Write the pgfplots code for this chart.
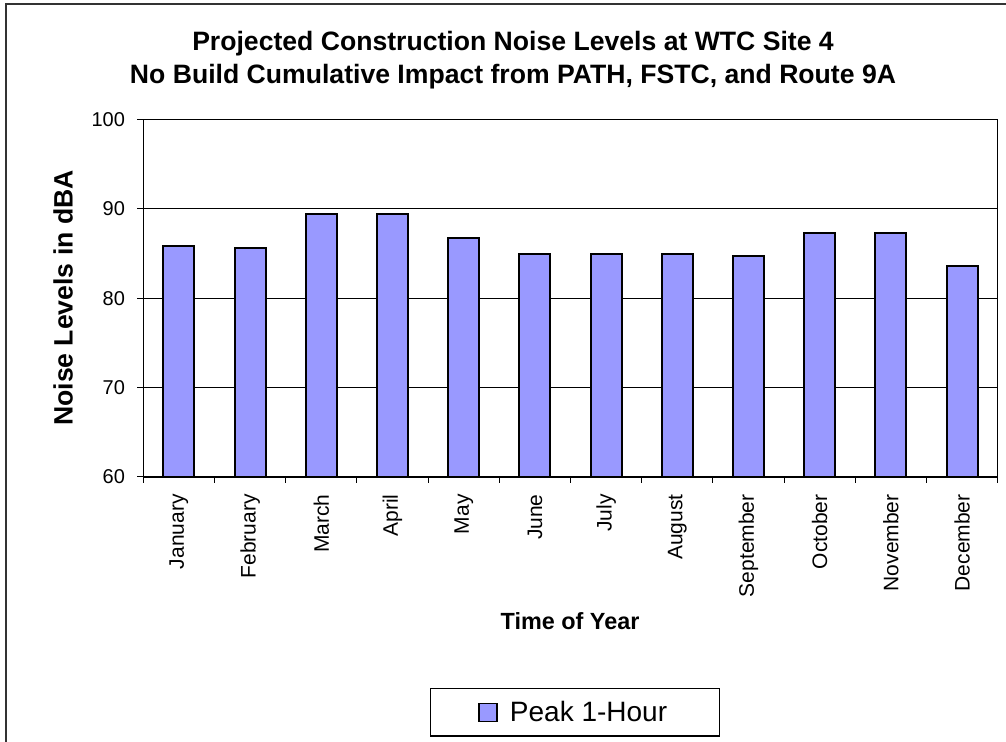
\documentclass[border=0pt]{standalone}
\usepackage{pgfplots}
\pgfplotsset{compat=1.18}
\usepackage{fontspec}
\setmainfont{Liberation Sans}
\definecolor{barfill}{HTML}{9999FF}
\begin{document}
\begin{tikzpicture}
\path[use as bounding box] (0,0) rectangle (503pt,371pt);
\draw[line width=0.8pt,black!80] (2.9pt,0pt) -- (2.9pt,369pt) -- (503pt,369pt);
\begin{axis}[
  at={(71.65pt,132.5pt)}, anchor=south west,
  width=427.2pt, height=178.85pt, scale only axis,
  ymin=60, ymax=100, ytick={60,70,80,90,100},
  xmin=-0.5, xmax=11.5,
  xtick={0,...,11},
  xticklabels={January,February,March,April,May,June,July,August,September,October,November,December},
  minor xtick={-0.5,0.5,...,11.5},
  xtick pos=left, ytick pos=left,
  tick align=outside,
  major tick length=3pt, minor tick length=3pt,
  major x tick style={draw=none},
  minor x tick style={black, line width=0.5pt},
  ytick style={black, line width=0.5pt},
  ymajorgrids, grid style={black, line width=0.5pt},
  axis line style={black, line width=0.6pt},
  /pgf/number format/assume math mode=true,
  yticklabel style={font=\fontsize{10}{12}\selectfont, inner sep=0pt, xshift=-6pt},
  xticklabel style={font=\fontsize{10.5}{12}\selectfont, rotate=90, anchor=east, inner sep=0pt},
  xticklabel shift=5.5pt,
  legend style={at={(0.505,-0.658)}, anchor=center, draw=black, line width=0.6pt,
    font=\fontsize{14}{16}\selectfont, inner xsep=24pt, inner ysep=4pt},
  legend image code/.code={\draw[#1, line width=0.6pt] (0pt,-4.5pt) rectangle (9pt,4.5pt); \path (13pt,0pt);},
  clip=false,
]
\addplot[ybar, bar width=15.5pt, fill=barfill, draw=black, line width=1pt]
  coordinates {(0,85.8) (1,85.6) (2,89.4) (3,89.4) (4,86.7) (5,84.9) (6,84.9) (7,84.9) (8,84.7) (9,87.3) (10,87.3) (11,83.6)};
\addlegendentry{Peak 1-Hour}
\end{axis}
\node[anchor=base, font=\bfseries\fontsize{13.3}{15}\selectfont] at (256.5pt,345.6pt) {Projected Construction Noise Levels at WTC Site 4};
\node[anchor=base, font=\bfseries\fontsize{13.3}{15}\selectfont] at (256.5pt,329.3pt) {No Build Cumulative Impact from PATH, FSTC, and Route 9A};
\node[anchor=base, font=\bfseries\fontsize{11.7}{14}\selectfont] at (285pt,56pt) {Time of Year};
\node[rotate=90, anchor=center, font=\bfseries\fontsize{13.3}{15}\selectfont] at (31.5pt,222pt) {Noise Levels in dBA};
\end{tikzpicture}
\end{document}
